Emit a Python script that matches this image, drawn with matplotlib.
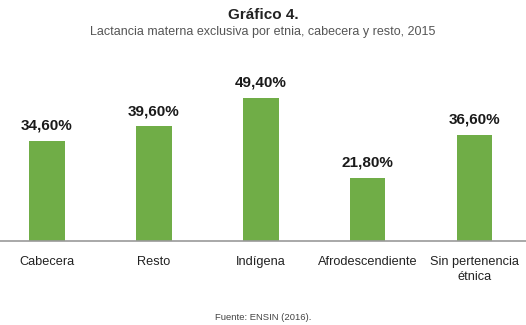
import matplotlib.pyplot as plt

plt.rcParams['font.family'] = ['Liberation Sans', 'DejaVu Sans']

categorias = ['Cabecera', 'Resto', 'Indígena', 'Afrodescendiente', 'Sin pertenencia\nétnica']
valores = [34.6, 39.6, 49.4, 21.8, 36.6]
etiquetas = ['34,60%', '39,60%', '49,40%', '21,80%', '36,60%']

fig = plt.figure(figsize=(5.26, 3.25), dpi=100)
ax = fig.add_axes([0, 0.2585, 1, 0.557])

x = range(len(categorias))
ax.bar(x, valores, width=0.33, color='#70ad47')
for i, v in enumerate(valores):
    ax.annotate(etiquetas[i], (i, v), xytext=(0, 6), textcoords='offset points',
                ha='center', va='bottom', fontsize=11, fontweight='bold', color='#1a1a1a')

ax.set_xlim(-0.44, 4.48)
ax.set_ylim(0, 62.6)
ax.set_xticks(list(x))
ax.set_xticklabels(categorias, fontsize=9.2, color='#222222', linespacing=1.3)
ax.tick_params(axis='x', length=0, pad=11)
ax.set_yticks([])
for s in ['top', 'right', 'left']:
    ax.spines[s].set_visible(False)
ax.spines['bottom'].set_color('#999999')
ax.spines['bottom'].set_linewidth(1.2)

fig.text(0.5, 1 - 15/325, 'Gráfico 4.', ha='center', va='center',
         fontsize=11, fontweight='bold', color='#222222')
fig.text(0.5, 1 - 32/325, 'Lactancia materna exclusiva por etnia, cabecera y resto, 2015',
         ha='center', va='center', fontsize=9, color='#555555')
fig.text(0.5, 1 - 318/325, 'Fuente: ENSIN (2016).', ha='center', va='center',
         fontsize=6.8, color='#444444')

fig.savefig('out.png', dpi=100)
